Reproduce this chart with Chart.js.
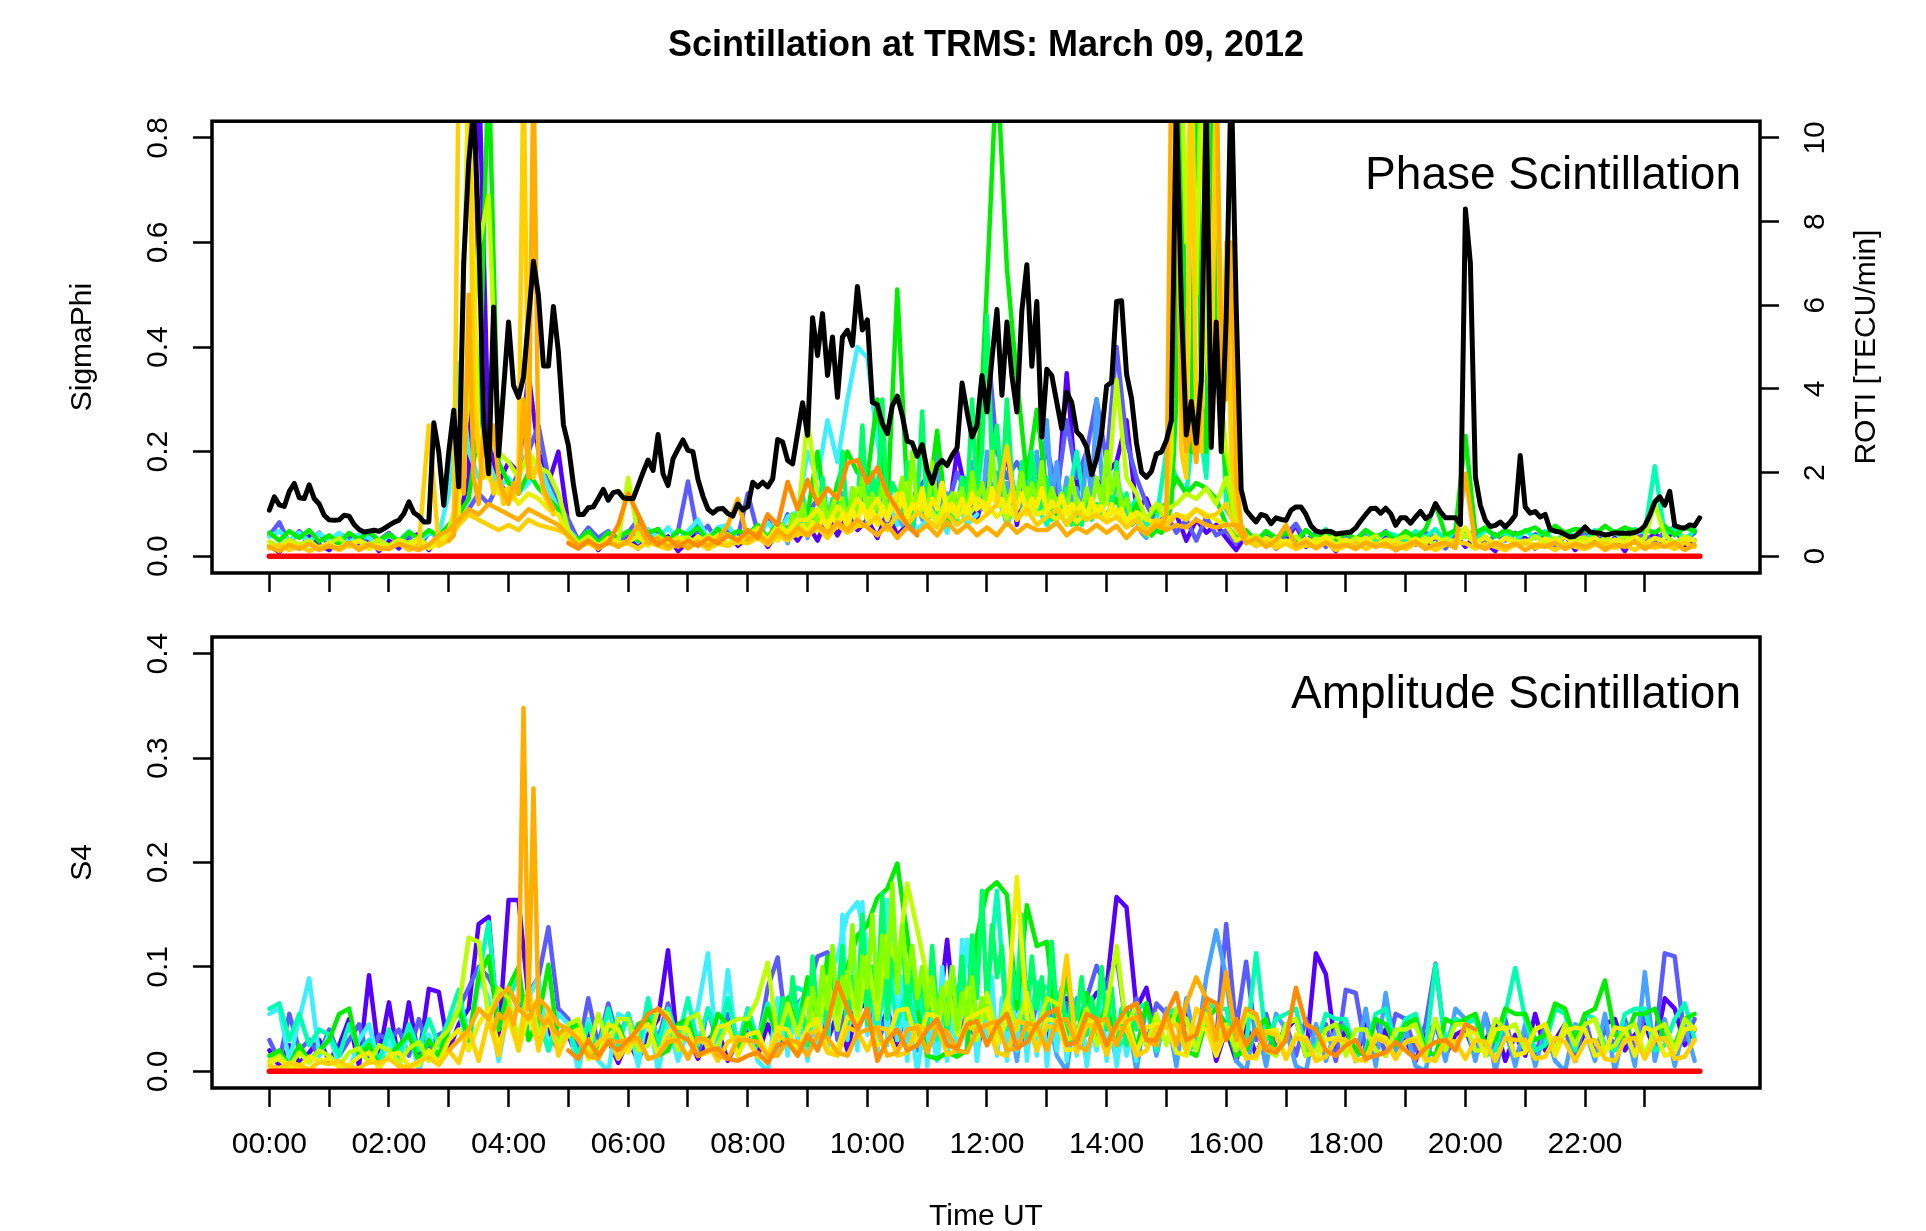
<!DOCTYPE html>
<html>
<head>
  <meta charset="utf-8">
  <title>Scintillation at TRMS: March 09, 2012</title>
  <script src="https://cdn.jsdelivr.net/npm/chart.js"></script>
  <style>
    body {
      margin: 0;
      background: #fff;
      width: 1926px;
      height: 1231px;
      overflow: hidden;
      position: relative;
    }
    .panel { position: absolute; left: 0; }
    .panel canvas { display: block; }
    #phiPanel { top: 0; }
    #s4Panel { top: 600px; }
  </style>
</head>
<body>
  <div class="panel" id="phiPanel"><canvas id="phiChart" width="1926" height="600"></canvas></div>
  <div class="panel" id="s4Panel"><canvas id="s4Chart" width="1926" height="640"></canvas></div>

  <script>
    // ---- axes ----
    const hourTicks = [0, 1, 2, 3, 4, 5, 6, 7, 8, 9, 10, 11, 12, 13, 14, 15, 16, 17, 18, 19, 20, 21, 22, 23];
    const hourLabels = ['00:00', '', '02:00', '', '04:00', '', '06:00', '', '08:00', '', '10:00', '',
                        '12:00', '', '14:00', '', '16:00', '', '18:00', '', '20:00', '', '22:00', ''];
    const phiTicks = [0, 0.2, 0.4, 0.6, 0.8];
    const rotiTicks = [0, 2, 4, 6, 8, 10];
    const s4Ticks = [0, 0.1, 0.2, 0.3, 0.4];
    const zeroSpan = [0, 23.92];

    // ---- ROTI [TECU/min], one value every 5 min from 00:00 ----
    const roti = [
      1.10, 1.42, 1.23, 1.19, 1.55, 1.74, 1.40, 1.38, 1.71, 1.38, 1.25, 0.98,
      0.87, 0.86, 0.87, 0.98, 0.96, 0.76, 0.64, 0.58, 0.60, 0.62, 0.60, 0.66,
      0.74, 0.81, 0.86, 1.02, 1.30, 1.04, 0.96, 0.82, 0.82, 3.19, 2.49, 1.22,
      2.49, 3.49, 1.66, 7.03, 9.42, 10.7, 7.80, 3.20, 1.97, 5.96, 2.40, 4.00,
      5.60, 4.08, 3.80, 4.28, 5.67, 7.05, 6.23, 4.55, 4.55, 5.97, 4.88, 3.15,
      2.65, 1.73, 1.00, 1.00, 1.16, 1.18, 1.38, 1.60, 1.34, 1.52, 1.55, 1.40,
      1.38, 1.38, 1.69, 2.01, 2.30, 2.05, 2.91, 1.97, 1.69, 2.33, 2.56, 2.78,
      2.53, 2.50, 1.84, 1.44, 1.13, 1.03, 1.13, 1.14, 1.02, 0.96, 1.25, 1.11,
      1.19, 1.77, 1.66, 1.77, 1.66, 1.85, 2.79, 2.73, 2.29, 2.21, 2.94, 3.67,
      2.89, 5.70, 4.80, 5.80, 4.32, 5.24, 3.80, 5.24, 5.40, 5.04, 6.45, 5.41,
      5.65, 3.68, 3.62, 3.17, 2.93, 3.60, 3.83, 3.37, 2.75, 2.71, 2.39, 2.67,
      2.06, 1.75, 2.17, 2.29, 2.17, 2.41, 2.59, 4.14, 3.45, 2.85, 3.13, 4.32,
      3.45, 4.72, 5.90, 3.85, 5.60, 4.32, 3.45, 5.87, 6.97, 4.54, 6.09, 2.85,
      4.47, 4.32, 3.68, 3.05, 3.92, 3.68, 2.98, 2.85, 2.61, 1.95, 2.33, 2.93,
      4.07, 4.16, 6.09, 6.11, 4.36, 3.78, 2.71, 2.01, 1.89, 2.03, 2.45, 2.49,
      2.77, 3.25, 11.0, 6.00, 2.90, 3.70, 2.70, 4.20, 11.0, 2.60, 5.60, 2.50,
      5.70, 11.5, 6.00, 1.60, 1.10, 0.95, 0.82, 1.00, 0.96, 0.78, 0.92, 0.88,
      0.86, 1.10, 1.18, 1.18, 1.00, 0.73, 0.61, 0.57, 0.60, 0.59, 0.53, 0.55,
      0.56, 0.58, 0.68, 0.85, 1.00, 1.14, 1.15, 1.03, 1.15, 1.02, 0.74, 0.92,
      0.92, 0.79, 0.94, 1.07, 0.90, 0.98, 1.26, 1.06, 0.92, 0.92, 0.92, 0.76,
      8.30, 7.00, 1.90, 1.22, 0.86, 0.71, 0.74, 0.82, 0.70, 0.82, 0.98, 2.41,
      1.18, 1.03, 1.07, 0.94, 1.00, 0.64, 0.60, 0.58, 0.52, 0.46, 0.48, 0.58,
      0.70, 0.58, 0.56, 0.55, 0.51, 0.53, 0.56, 0.55, 0.55, 0.55, 0.57, 0.62,
      0.73, 0.98, 1.30, 1.42, 1.22, 1.55, 0.73, 0.69, 0.67, 0.75, 0.73, 0.92
    ];

    // ---- SigmaPhi per satellite arc, in units of 0.001 ----
    const phiViolet = [
      20, 8, 32, 15, 38, 22,  12, 30, 40, 18, 35, 10,  30, 15, 38, 42, 12, 35,
      40, 70, 150, 950, 220, 140,  180, 160, 350, 200, 140, 200,  60, 20, 38, 12, 35, 28,
      40, 15, 42, 22, 38, 10,  28, 45, 15, 38, 48, 20,  35, 50, 18, 45, 55, 30,
      60, 30, 75, 40, 80, 50,  70, 35, 85, 40, 60, 90,  80, 150, 60, 200, 110, 70,
      150, 100, 200, 60, 160, 130,  210, 90, 350, 120, 200, 130,  160, 180, 260, 90, 110, 60,
      60, 80, 30, 70, 45, 60,  35, 12, 40, 20, 38, 15,  30, 60, 18, 40, 32, 10,
      35, 15, 42, 25, 38, 12,  30, 42, 15, 38, 22, 40,  18, 38, 25, 10, 40, 28,
      35, 15, 38, 22, 42, 12,  30, 40, 18, 35, 10, 38,  25, 45, 20, 60, 15, 30
    ];
    const phiBlue = [
      40, 65, 25, 48, 30, 45,  22, 42, 35, 15, 44, 30,  45, 26, 40, 18, 45, 38,
      50, 65, 90, 120, 100, 140,  120, 160, 200, 250, 150, 100,  70, 30, 55, 35, 48, 25,
      45, 70, 30, 52, 20, 48,  143, 40, 58, 25, 50, 35,  120, 45, 70, 35, 80, 60,
      80, 110, 50, 120, 70, 100,  95, 140, 60, 120, 80, 130,  150, 180, 90, 160, 120, 150,
      420, 200, 150, 180, 140, 160,  210, 120, 260, 150, 200, 300,  180, 400, 220, 150, 100, 60,
      80, 45, 70, 30, 75, 40,  50, 25, 48, 30, 45, 20,  42, 62, 30, 45, 18, 40,
      38, 20, 45, 30, 48, 25,  40, 22, 45, 35, 15, 42,  38, 48, 20, 42, 30, 45,
      25, 42, 38, 15, 40, 30,  45, 28, 40, 20, 44, 36,  40, 25, 48, 55, 30, 45
    ];
    const phiCyanAm = [
      38, 48, 30, 45, 28, 44,  30, 45, 25, 42, 35, 20,  42, 30, 48, 28, 45, 40,
      120, 370, 200, 150, 180, 130,  150, 120, 140, 180, 130, 90,  50, 30, 48, 25, 45, 35,
      48, 28, 52, 35, 55, 30,  48, 70, 35, 55, 60, 30,  50, 35, 65, 40, 75, 85,
      200, 150, 260, 180, 300, 400,  380, 220, 120, 60, 90, 50,  70, 90, 45, 110, 60, 80
    ];
    const phiAquaPm = [
      100, 130, 60, 110, 85, 95,  60, 110, 90, 200, 70, 140,  120, 150, 80, 110, 60, 70,
      200, 150, 120, 300, 150, 600,  90, 60, 45, 25, 48, 35,  48, 30, 50, 35, 52, 28,
      45, 32, 50, 28, 46, 40,  30, 48, 36, 52, 28, 50,  48, 30, 52, 38, 45, 28,
      50, 35, 48, 25, 46, 38,  30, 50, 38, 48, 32, 52,  45, 172, 40, 55, 30, 50
    ];
    const phiAzureMid = [
      30, 50, 25, 70, 40, 60, 35, 90, 50, 80, 45, 100,
      60, 120, 50, 90, 70, 140, 60, 110, 80, 130, 70, 100,
      90, 60, 120, 50, 100, 70, 150, 80, 200, 90, 120, 70,
      100, 150, 80, 180, 120, 90, 200, 110, 160, 90, 140, 100,
      120, 90, 160, 100, 200, 120, 260, 110, 180, 90, 150, 100,
      130, 80, 200, 110, 300, 150, 120, 90, 160, 70, 110, 60,
      70, 45, 35
    ];
    const phiGreen = [
      45, 30, 48, 35, 50, 28,  40, 25, 45, 32, 48, 30,  42, 28, 46, 34, 50, 38,
      60, 80, 110, 250, 950, 180,  140, 120, 160, 130, 110, 90,  45, 30, 48, 25, 45, 35,
      48, 30, 45, 52, 28, 50,  40, 55, 30, 52, 38, 48,  42, 60, 35, 65, 50, 80,
      80, 200, 60, 140, 200, 160,  150, 300, 90, 510, 120, 100,  90, 240, 60, 100, 150, 130,
      520, 950, 550, 340, 150, 280,  120, 70, 110, 60, 120, 90,  80, 110, 60, 100, 70, 90,
      100, 150, 120, 140, 130, 110,  60, 35, 50, 28, 48, 35,  45, 30, 50, 35, 48, 28,
      46, 32, 50, 38, 45, 30,  48, 35, 52, 100, 40, 50,  230, 45, 55, 38, 50, 42,
      48, 55, 40, 58, 45, 52,  50, 42, 58, 45, 55, 48,  52, 45, 58, 40, 55, 48
    ];
    const phiSpringMid = [
      40, 60, 35, 80, 50, 120, 45, 90, 60, 150, 70, 110,
      80, 200, 60, 130, 90, 250, 70, 160, 100, 300, 80, 140,
      120, 80, 180, 60, 100, 277, 70, 140, 90, 60, 110, 80,
      70, 150, 90, 300, 120, 200, 460, 180, 250, 120, 300, 150,
      100, 180, 80, 200, 120, 90, 150, 70, 110, 80, 130, 60,
      90, 60, 120, 70, 100, 80, 140, 90, 180, 70, 120, 60,
      80, 50, 40
    ];
    const phiGreenBurst = [40, 50, 45, 60, 100, 300, 950, 250, 200, 950, 300, 200, 950, 400, 250, 150, 100, 60, 45, 40];
    const phiLime = [
      28, 18, 32, 22, 30, 15,  25, 35, 18, 30, 22, 32,  20, 32, 25, 35, 18, 30,
      50, 120, 300, 590, 690, 200,  180, 150, 200, 170, 160, 120,  50, 25, 38, 20, 35, 28,
      150, 40, 22, 38, 25, 34,  36, 22, 40, 28, 42, 25,  40, 55, 30, 60, 45, 65,
      264, 110, 70, 120, 80, 130,  110, 70, 120, 90, 140, 80,  100, 70, 110, 120, 75, 100,
      100, 120, 70, 110, 130, 80,  90, 100, 60, 110, 75, 95,  100, 337, 150, 120, 70, 100,
      90, 100, 120, 110, 130, 100,  150, 64, 30, 40, 22, 35,  25, 38, 20, 34, 28, 40,
      22, 35, 28, 40, 20, 32,  38, 25, 36, 20, 34, 28,  40, 25, 38, 22, 36, 30,
      24, 38, 28, 35, 20, 32,  36, 22, 34, 28, 38, 25,  35, 100, 40, 25, 38, 30
    ];
    const phiChartMid = [
      35, 60, 40, 80, 55, 100, 50, 90, 60, 120, 70, 95,
      70, 110, 60, 130, 80, 150, 75, 120, 90, 140, 80, 110,
      100, 150, 80, 200, 90, 130, 70, 180, 100, 140, 85, 120,
      90, 130, 75, 160, 100, 140, 90, 200, 110, 150, 95, 130,
      110, 160, 90, 140, 100, 180, 85, 130, 100, 120, 90, 150,
      100, 80, 130, 90, 150, 100, 200, 120, 160, 90, 110, 70,
      80, 60, 45
    ];
    const phiLimeBurst = [90, 100, 80, 90, 200, 950, 950, 600, 950, 500, 950, 400, 300, 950, 300, 200, 150, 80, 50, 40];
    const phiYellow = [
      22, 12, 28, 16, 25, 14,  26, 15, 24, 30, 14, 22,  16, 28, 20, 30, 15, 25,
      40, 80, 950, 200, 150, 120,  130, 100, 120, 110, 90, 80,  35, 20, 32, 18, 34, 25,
      28, 38, 20, 34, 24, 36,  22, 38, 26, 40, 24, 35,  35, 50, 30, 60, 45, 70,
      70, 90, 60, 95, 75, 110,  80, 110, 70, 120, 85, 100,  90, 65, 100, 75, 95, 110,
      100, 75, 95, 70, 100, 80,  85, 70, 95, 65, 85, 75,  75, 90, 60, 85, 70, 65,
      70, 80, 75, 90, 80, 70,  60, 30, 40, 22, 35, 25,  30, 20, 34, 25, 38, 22,
      32, 24, 36, 20, 32, 28,  22, 34, 26, 38, 24, 30,  55, 25, 36, 22, 34, 26,
      30, 20, 34, 26, 38, 24,  28, 36, 22, 32, 26, 38,  24, 35, 28, 20, 34, 30
    ];
    const phiYellowMid = [
      30, 45, 35, 55, 40, 60, 45, 65, 50, 70, 55, 75,
      60, 80, 55, 90, 65, 100, 70, 85, 60, 95, 70, 110,
      80, 120, 70, 100, 85, 130, 75, 110, 90, 140, 80, 100,
      85, 110, 75, 120, 90, 100, 80, 130, 95, 110, 85, 120,
      90, 120, 80, 110, 95, 130, 85, 105, 90, 115, 80, 100,
      85, 100, 75, 110, 80, 95, 70, 100, 75, 90, 65, 80,
      70, 55, 45
    ];
    const phiGold = [
      15, 22, 12, 20, 10, 18,  20, 12, 22, 16, 24, 14,  16, 24, 12, 20, 250, 20,
      30, 60, 80, 70, 60, 50,  60, 50, 70, 60, 55, 50,  40, 18, 25, 15, 26, 20,
      25, 15, 28, 20, 14, 24,  18, 26, 14, 24, 20, 28,  25, 35, 22, 40, 30, 45,
      40, 55, 35, 60, 45, 58,  60, 75, 50, 80, 60, 85,  70, 55, 80, 60, 75, 65,
      80, 100, 210, 70, 90, 60,  75, 90, 60, 85, 70, 80,  65, 75, 55, 70, 50, 60,
      60, 80, 70, 90, 75, 80,  100, 50, 30, 20, 28, 16,  24, 14, 22, 18, 26, 12,
      20, 26, 14, 24, 18, 22,  14, 24, 20, 12, 22, 26,  25, 15, 24, 18, 12, 22,
      26, 16, 22, 12, 24, 18,  14, 22, 26, 16, 22, 12,  24, 16, 22, 14, 26, 18
    ];
    const phiGoldBurst1 = [40, 60, 950, 950, 950, 300, 200, 150, 180, 120, 150, 100, 130, 110, 160, 950, 200, 150, 180, 120, 100, 80];
    const phiGoldBurst2 = [60, 70, 65, 80, 300, 950, 200, 150, 950, 250, 200, 950, 300, 950, 250, 600, 200, 100, 50, 30];
    const phiAmber = [
      18, 10, 22, 14, 24, 12,  20, 14, 26, 12, 22, 16,  14, 24, 18, 12, 22, 40,
      50, 70, 90, 80, 100, 90,  80, 70, 90, 80, 70, 60,  40, 20, 30, 15, 28, 18,
      30, 60, 25, 35, 18, 28,  15, 28, 20, 32, 60, 110,  30, 45, 25, 50, 35, 55,
      40, 60, 45, 65, 50, 70,  55, 40, 60, 35, 55, 45,  60, 40, 65, 45, 60, 40,
      55, 40, 65, 45, 60, 50,  50, 65, 40, 55, 45, 60,  45, 58, 35, 55, 42, 60,
      50, 60, 55, 70, 60, 55,  60, 60, 25, 35, 18, 30,  60, 20, 28, 15, 26, 18,
      22, 14, 26, 18, 24, 12,  20, 28, 14, 22, 26, 16,  158, 22, 14, 26, 18, 24,
      12, 22, 18, 26, 14, 24,  18, 26, 12, 22, 18, 28,  14, 24, 18, 26, 12, 22
    ];
    const phiAmberBurst1 = [30, 40, 200, 120, 500, 150, 100, 250, 180, 250, 150, 120, 100, 140, 120, 300, 150, 950, 180, 130, 110, 90];
    const phiAmberBurst2 = [50, 60, 55, 80, 950, 950, 300, 200, 250, 180, 300, 950, 950, 950, 400, 300, 600, 150, 60, 40];
    const phiOrange = [
      25, 15, 30, 18, 25, 60,  120, 80, 40, 22, 35, 18,  30, 20, 35, 25, 40, 30,
      50, 35, 80, 60, 142, 90,  146, 100, 130, 110, 178, 184,  140, 170, 120, 90, 60, 40
    ];

    // ---- S4 per satellite arc, in units of 0.001 ----
    const s4Violet = [
      20, 5, 25, 8, 18, 30,  10, 25, 50, 5, 92, 15,  66, 8, 66, 12, 79, 76,
      20, 45, 60, 141, 148, 30,  164, 164, 70, 30, 40, 20,  35, 10, 40, 15, 30, 8,
      30, 10, 35, 50, 116, 20,  35, 12, 30, 40, 10, 30,  40, 15, 45, 20, 40, 55,
      25, 60, 30, 55, 20, 60,  65, 30, 60, 25, 70, 40,  80, 40, 126, 30, 70, 20,
      60, 25, 50, 65, 20, 70,  30, 55, 70, 20, 60, 75,  80, 167, 157, 60, 80, 30,
      50, 15, 60, 20, 55, 10,  40, 10, 45, 15, 40, 20,  40, 50, 15, 113, 93, 20,
      40, 10, 45, 20, 40, 15,  30, 10, 35, 45, 15, 35,  40, 15, 30, 45, 10, 35,
      15, 55, 20, 30, 45, 10,  40, 15, 45, 50, 20, 35,  45, 20, 70, 60, 25, 40
    ];
    const s4Blue = [
      30, 10, 55, 20, 30, 15,  40, 15, 30, 45, 10, 35,  30, 40, 15, 50, 20, 35,
      40, 60, 80, 100, 90, 70,  80, 60, 75, 90, 138, 60,  50, 20, 70, 25, 65, 30,
      55, 20, 60, 30, 65, 25,  45, 15, 60, 25, 55, 20,  60, 25, 80, 109, 30, 65,
      75, 110, 114, 30, 65, 40,  60, 25, 55, 30, 60, 20,  55, 20, 70, 30, 80, 25,
      65, 30, 60, 75, 25, 65,  70, 25, 65, 30, 70, 101,  80, 110, 40, 70, 25, 65,
      55, 20, 50, 25, 60, 30,  141, 40, 105, 30, 55, 20,  45, 15, 50, 25, 45, 10,
      78, 75, 20, 50, 15, 55,  50, 20, 45, 103, 25, 50,  45, 15, 55, 20, 50, 10,
      40, 15, 45, 20, 40, 10,  50, 15, 40, 25, 50, 20,  55, 25, 113, 110, 30, 50
    ];
    const s4CyanAm = [
      55, 60, 10, 50, 89, 15,  35, 5, 0, 30, 45, 5,  30, 5, 40, 0, 35, 10,
      40, 60, 20, 90, 70, 10,  60, 20, 70, 90, 20, 55,  45, 0, 50, 10, 0, 55,
      50, 5, 60, 0, 45, 10,  40, 60, 113, 10, 97, 15,  50, 10, 0, 70, 20, 60,
      80, 20, 90, 110, 150, 162,  120, 20, 164, 30, 70, 0,  60, 10, 80, 20, 126, 10
    ];
    const s4SkyPm = [
      80, 20, 70, 10, 85, 20,  60, 15, 0, 70, 10, 60,  55, 10, 60, 0, 65, 15,
      60, 5, 70, 20, 90, 135,  90, 10, 0, 50, 5, 55,  40, 5, 0, 45, 10, 40,
      45, 10, 60, 5, 75, 15,  40, 5, 0, 50, 10, 60,  50, 10, 55, 0, 40, 5,
      45, 5, 40, 10, 0, 45,  40, 10, 55, 0, 45, 5,  95, 10, 50, 5, 45, 10
    ];
    const s4CyanMid = [
      20, 60, 15, 80, 30, 50, 10, 70, 25, 90, 20, 100,
      40, 150, 30, 120, 20, 162, 35, 100, 15, 130, 25, 164,
      30, 90, 10, 110, 25, 80, 5, 70, 20, 100, 10, 60,
      15, 126, 20, 80, 10, 60, 25, 90, 15, 70, 10, 80,
      20, 100, 10, 60, 15, 80, 5, 50, 20, 70, 10, 50,
      15, 60, 5, 40, 20, 70, 10, 50, 5, 40, 15, 35,
      10
    ];
    const s4AquaAm = [
      60, 65, 30, 55, 25, 40,  35, 15, 45, 20, 30, 10,  40, 15, 45, 20, 50, 25,
      50, 78, 30, 90, 143, 40,  70, 90, 30, 50, 20, 45,  40, 15, 45, 20, 60, 25,
      55, 20, 70, 25, 60, 30,  70, 25, 60, 30, 70, 25,  60, 30, 65, 35, 70, 80,
      75, 40, 90, 45, 100, 50,  90, 40, 100, 45, 80, 35,  85, 30, 75, 40, 80, 30
    ];
    const s4AquaPm = [
      75, 173, 40, 80, 30, 85,  80, 75, 30, 25, 70, 30,  65, 25, 30, 60, 65, 20,
      55, 60, 20, 25, 65, 60,  60, 20, 25, 113, 30, 50,  55, 60, 20, 25, 55, 50,
      50, 15, 20, 55, 60, 25,  50, 55, 20, 102, 25, 50,  45, 50, 15, 20, 55, 99,
      50, 20, 25, 60, 55, 20,  55, 50, 25, 20, 55, 60,  60, 20, 25, 50, 65, 30
    ];
    const s4Green = [
      15, 20, 5, 25, 10, 20,  30, 55, 60, 15, 25, 5,  15, 25, 35, 10, 30, 15,
      40, 60, 30, 90, 110, 40,  80, 100, 30, 50, 102, 25,  40, 45, 15, 20, 40, 45,
      20, 45, 50, 15, 20, 45,  50, 15, 20, 55, 45, 20,  50, 25, 60, 30, 70, 40,
      90, 40, 110, 50, 100, 130,  140, 166, 175, 199, 130, 60,  15, 12, 18, 14, 20, 130,
      173, 181, 169, 60, 159, 120,  124, 40, 90, 30, 75, 35,  65, 25, 60, 20, 65, 30,
      50, 55, 20, 15, 50, 60,  45, 15, 20, 40, 50, 15,  45, 50, 15, 20, 40, 45,
      40, 20, 15, 50, 45, 25,  45, 50, 20, 15, 50, 45,  50, 55, 25, 30, 60, 55,
      55, 30, 35, 65, 60, 30,  55, 60, 87, 35, 30, 55,  55, 60, 30, 25, 50, 55
    ];
    const s4SpringMid = [
      40, 70, 30, 90, 45, 60, 25, 110, 50, 80, 35, 95,
      60, 120, 40, 90, 55, 150, 45, 100, 60, 170, 50, 110,
      80, 140, 50, 100, 60, 90, 40, 120, 55, 80, 35, 100,
      60, 110, 45, 130, 70, 173, 60, 140, 90, 120, 50, 100,
      70, 150, 50, 110, 60, 90, 40, 124, 55, 80, 35, 70,
      50, 90, 35, 70, 45, 100, 40, 80, 30, 60, 25, 55,
      40
    ];
    const s4Lime = [
      10, 15, 5, 18, 8, 20,  15, 5, 18, 22, 8, 25,  20, 8, 22, 28, 10, 30,
      40, 60, 128, 124, 50, 80,  70, 30, 80, 35, 55, 25,  45, 50, 20, 55, 25, 50,
      50, 20, 25, 60, 55, 20,  50, 55, 20, 25, 45, 50,  50, 70, 104, 30, 65, 35,
      70, 35, 90, 40, 95, 45,  110, 50, 130, 100, 180, 136,  90, 40, 85, 35, 80, 30,
      75, 35, 70, 40, 75, 35,  70, 65, 30, 35, 60, 25,  60, 120, 40, 65, 25, 55,
      25, 60, 50, 20, 55, 25,  45, 20, 55, 50, 20, 15,  45, 50, 15, 20, 40, 45,
      15, 40, 40, 20, 15, 40,  40, 45, 15, 50, 20, 45,  45, 20, 20, 50, 40, 45,
      20, 40, 45, 20, 45, 25,  45, 50, 20, 25, 40, 45,  15, 40, 45, 20, 50, 40
    ];
    const s4ChartMid = [
      40, 80, 50, 100, 60, 120, 55, 90, 70, 140, 60, 110,
      80, 150, 70, 130, 90, 180, 75, 140, 85, 120, 70, 100,
      60, 90, 50, 80, 45, 100, 40, 75, 50, 90, 45, 70,
      50
    ];
    const s4Yellow = [
      8, 12, 2, 4, 14, 10,  12, 4, 6, 14, 18, 3,  15, 18, 5, 6, 20, 8,
      30, 40, 20, 45, 60, 25,  50, 20, 55, 25, 50, 20,  35, 40, 12, 15, 45, 40,
      18, 40, 45, 15, 38, 42,  40, 15, 18, 42, 45, 15,  35, 38, 15, 42, 40, 20,
      42, 50, 20, 22, 52, 48,  55, 25, 28, 58, 60, 25,  55, 52, 25, 22, 50, 55,
      60, 25, 50, 186, 52, 20,  50, 48, 20, 22, 45, 50,  20, 45, 50, 18, 42, 45,
      45, 18, 15, 42, 40, 15,  40, 42, 15, 12, 38, 40,  12, 35, 32, 10, 30, 32,
      30, 10, 12, 35, 32, 12,  28, 32, 10, 12, 30, 28,  35, 38, 15, 40, 42, 15,
      18, 40, 45, 15, 38, 42,  40, 15, 18, 42, 40, 15,  42, 38, 15, 18, 40, 42
    ];
    const s4Gold = [
      5, 3, 8, 6, 2, 9,  7, 10, 4, 3, 9, 8,  12, 5, 4, 10, 13, 6,
      20, 8, 40, 10, 50, 15,  60, 20, 80, 20, 60, 15,  40, 32, 14, 28, 35, 12,
      26, 30, 12, 15, 32, 28,  14, 30, 26, 10, 28, 33,  30, 14, 12, 35, 28, 15,
      35, 40, 18, 15, 42, 38,  20, 42, 40, 15, 18, 44,  40, 45, 16, 20, 44, 38,
      45, 18, 15, 48, 46, 20,  44, 40, 111, 18, 45, 42,  16, 42, 40, 15, 20, 42,
      42, 45, 18, 60, 50, 20,  40, 38, 12, 15, 38, 35,  12, 32, 30, 10, 14, 30,
      30, 12, 10, 32, 28, 12,  28, 30, 12, 10, 30, 28,  12, 30, 28, 10, 32, 30,
      30, 12, 14, 32, 28, 10,  28, 30, 12, 10, 30, 32,  12, 30, 32, 12, 14, 30
    ];
    const s4GoldBurst = [40, 55, 50, 60, 45, 70, 348, 60, 271, 55, 45, 50, 40, 35, 40];
    const s4Amber = [
      20, 30, 40, 60, 50, 70,  80, 60, 50, 70, 60, 45,  40, 30, 15, 12, 30, 28,
      30, 32, 12, 15, 28, 30,  12, 32, 30, 15, 12, 30,  30, 28, 15, 15, 30, 28,
      15, 35, 32, 18, 15, 36,  40, 42, 15, 18, 40, 42,  18, 42, 38, 20, 18, 40,
      45, 48, 20, 22, 46, 44,  20, 48, 50, 25, 20, 48,  50, 25, 48, 52, 30, 25,
      55, 25, 65, 90, 70, 30,  95, 30, 60, 55, 25, 20
    ];
    const s4Orange = [
      20, 12, 30, 15, 28, 20,  30, 40, 55, 60, 50, 35,  30, 15, 20, 22, 12, 10,
      15, 18, 8, 25, 28, 15,  35, 20, 45, 85, 60, 40,  60, 10, 30, 40, 20, 25,
      40, 50, 25, 22, 45, 48,  25, 45, 55, 22, 28, 45,  55, 60, 25, 28, 55, 50,
      25, 45, 60, 65, 30, 30,  55, 75, 30, 35, 70, 65,  30, 50, 25, 40, 20, 18,
      30, 80, 45, 40, 20, 15,  25, 30, 12, 15, 18, 28,  20, 12, 22, 28, 30, 20,
      45, 40
    ];

    // arc tables: start hour UT, sampling step in minutes
    const phiArcs = [
      { vals: phiViolet, start: 0, step: 10 },
      { vals: phiBlue, start: 0, step: 10 },
      { vals: phiCyanAm, start: 0, step: 10 },
      { vals: phiAquaPm, start: 12, step: 10 },
      { vals: phiAzureMid, start: 8.5, step: 5 },
      { vals: phiGreen, start: 0, step: 10 },
      { vals: phiSpringMid, start: 8.5, step: 5 },
      { vals: phiGreenBurst, start: 14.75, step: 5 },
      { vals: phiLime, start: 0, step: 10 },
      { vals: phiChartMid, start: 8.5, step: 5 },
      { vals: phiLimeBurst, start: 14.75, step: 5 },
      { vals: phiYellow, start: 0, step: 10 },
      { vals: phiYellowMid, start: 8.5, step: 5 },
      { vals: phiGold, start: 0, step: 10 },
      { vals: phiGoldBurst1, start: 3, step: 5 },
      { vals: phiGoldBurst2, start: 14.75, step: 5 },
      { vals: phiAmber, start: 0, step: 10 },
      { vals: phiAmberBurst1, start: 3, step: 5 },
      { vals: phiAmberBurst2, start: 14.75, step: 5 },
      { vals: phiOrange, start: 5, step: 10 }
    ];
    const s4Arcs = [
      { vals: s4Violet, start: 0, step: 10 },
      { vals: s4Blue, start: 0, step: 10 },
      { vals: s4CyanAm, start: 0, step: 10 },
      { vals: s4SkyPm, start: 12, step: 10 },
      { vals: s4CyanMid, start: 8.5, step: 5 },
      { vals: s4AquaAm, start: 0, step: 10 },
      { vals: s4AquaPm, start: 12, step: 10 },
      { vals: s4Green, start: 0, step: 10 },
      { vals: s4SpringMid, start: 8.5, step: 5 },
      { vals: s4Lime, start: 0, step: 10 },
      { vals: s4ChartMid, start: 9, step: 5 },
      { vals: s4Yellow, start: 0, step: 10 },
      { vals: s4Gold, start: 0, step: 10 },
      { vals: s4GoldBurst, start: 3.75, step: 5 },
      { vals: s4Amber, start: 3, step: 10 },
      { vals: s4Orange, start: 5, step: 10 }
    ];

    // ---- styles ----
    const PAL = {
      violet: '#5500FF', blue: '#5B5BFF', azure: '#47A3FF', cyan: '#3CF0FF', aqua: '#00FFB0',
      spring: '#00FF66', green: '#00EE00', chartreuse: '#88FF00', lime: '#BBFF00', yellow: '#EEEE00',
      yellow2: '#FFEE00', gold: '#FFD000', amber: '#FFAE00', orange: '#FF8C00'
    };
    const phiColours = ['violet', 'blue', 'cyan', 'aqua', 'azure', 'green', 'spring', 'green', 'lime',
                        'chartreuse', 'lime', 'yellow', 'yellow2', 'gold', 'gold', 'gold', 'amber', 'amber',
                        'amber', 'orange'];
    const s4Colours = ['violet', 'blue', 'cyan', 'azure', 'cyan', 'aqua', 'aqua', 'green', 'spring', 'lime',
                       'chartreuse', 'yellow', 'gold', 'amber', 'amber', 'orange'];

    const FONT = "'Liberation Sans', Arial, Helvetica, sans-serif";
    Chart.defaults.font.family = FONT;
    Chart.defaults.color = '#000';

    const X_MIN = -0.959, X_MAX = 24.926;

    function arcPoints(a) {
      return a.vals.map((v, i) => ({ x: a.start + i * a.step / 60, y: v / 1000 }));
    }

    function lineSet(data, colour, width, axis) {
      return {
        data: data,
        borderColor: colour,
        borderWidth: width,
        borderJoinStyle: 'round',
        borderCapStyle: 'round',
        pointRadius: 0,
        tension: 0,
        fill: false,
        yAxisID: axis
      };
    }

    // first dataset is painted last (on top)
    function buildSets(arcs, colours, extra) {
      const sets = arcs.map((a, i) => lineSet(arcPoints(a), PAL[colours[i]], 4.5, 'y'));
      return extra.concat(sets.reverse());
    }

    const tickMarks = {
      drawOnChartArea: false, drawTicks: true, tickLength: 19,
      tickWidth: 2.5, tickColor: '#000', color: '#000'
    };

    function timeAxis(showLabels, height) {
      return {
        type: 'linear', position: 'bottom', min: X_MIN, max: X_MAX,
        afterBuildTicks: s => { s.ticks = hourTicks.map(v => ({ value: v })); },
        afterFit: s => { s.height = height; },
        ticks: {
          display: showLabels, autoSkip: false, maxRotation: 0, minRotation: 0,
          padding: 20, font: { size: 30 }, color: '#000',
          callback: (v, i) => hourLabels[i]
        },
        grid: tickMarks,
        border: { display: false },
        title: {
          display: showLabels, text: 'Time UT', font: { size: 30 }, color: '#000',
          padding: { top: 0, bottom: 5 }
        }
      };
    }

    function valueAxis(pos, min, max, ticks, width, title) {
      return {
        type: 'linear', position: pos, min: min, max: max,
        afterBuildTicks: s => { s.ticks = ticks.map(v => ({ value: v })); },
        afterFit: s => { s.width = width; },
        ticks: { display: false },
        grid: tickMarks,
        border: { display: false },
        title: {
          display: !!title, text: title || '', font: { size: 30 }, color: '#000',
          padding: { top: 65, bottom: 0 }
        }
      };
    }

    // frame, rotated tick labels (R style), panel caption
    function panelDecor(o) {
      return {
        id: 'panelDecor',
        afterDraw(chart) {
          const { ctx, chartArea: a, scales } = chart;
          const rotated = (text, x, y) => {
            ctx.save();
            ctx.translate(x, y);
            ctx.rotate(-Math.PI / 2);
            ctx.fillText(text, 0, 0);
            ctx.restore();
          };
          ctx.save();
          ctx.fillStyle = '#000';
          ctx.font = '30px ' + FONT;
          ctx.textAlign = 'center';
          ctx.textBaseline = 'middle';
          o.leftTicks.forEach(v => rotated(v.toFixed(1), a.left - 53.5, scales.y.getPixelForValue(v)));
          if (o.rightTicks) {
            o.rightTicks.forEach(v => rotated(String(v), a.right + 55.5, scales.y2.getPixelForValue(v)));
            rotated(o.rightTitle, a.right + 107, (a.top + a.bottom) / 2);
          }
          ctx.font = '46px ' + FONT;
          ctx.textAlign = 'right';
          ctx.textBaseline = 'alphabetic';
          ctx.fillText(o.label, a.right - 19, a.top + o.labelDrop);
          ctx.lineWidth = 3.5;
          ctx.strokeStyle = '#000';
          ctx.strokeRect(a.left, a.top, a.right - a.left, a.bottom - a.top);
          ctx.restore();
        }
      };
    }

    const zeroPoints = () => zeroSpan.map(x => ({ x: x, y: 0 }));
    const rotiSet = lineSet(roti.map((v, i) => ({ x: i * 5 / 60, y: v })), '#000000', 5, 'y2');

    new Chart(document.getElementById('phiChart'), {
      type: 'line',
      data: { datasets: buildSets(phiArcs, phiColours, [lineSet(zeroPoints(), '#FF0000', 5.5, 'y'), rotiSet]) },
      options: {
        responsive: false,
        animation: false,
        events: [],
        layout: { padding: 0 },
        plugins: {
          legend: { display: false },
          tooltip: { enabled: false },
          title: {
            display: true,
            text: 'Scintillation at TRMS: March 09, 2012',
            fullSize: false,
            color: '#000',
            font: { size: 36, weight: 'bold' },
            padding: { top: 24, bottom: 54 }
          }
        },
        scales: {
          x: timeAxis(false, 27),
          y: valueAxis('left', -0.032, 0.832, phiTicks, 212, 'SigmaPhi'),
          y2: valueAxis('right', -0.4, 10.4, rotiTicks, 166, null)
        }
      },
      plugins: [panelDecor({
        leftTicks: phiTicks, rightTicks: rotiTicks, rightTitle: 'ROTI [TECU/min]',
        label: 'Phase Scintillation', labelDrop: 68
      })]
    });

    new Chart(document.getElementById('s4Chart'), {
      type: 'line',
      data: { datasets: buildSets(s4Arcs, s4Colours, [lineSet(zeroPoints(), '#FF0000', 5.5, 'y')]) },
      options: {
        responsive: false,
        animation: false,
        events: [],
        layout: { padding: { top: 37, right: 166, bottom: 0, left: 0 } },
        plugins: {
          legend: { display: false },
          tooltip: { enabled: false }
        },
        scales: {
          x: timeAxis(true, 152),
          y: valueAxis('left', -0.016, 0.416, s4Ticks, 212, 'S4')
        }
      },
      plugins: [panelDecor({
        leftTicks: s4Ticks, label: 'Amplitude Scintillation', labelDrop: 71
      })]
    });
  </script>
</body>
</html>
